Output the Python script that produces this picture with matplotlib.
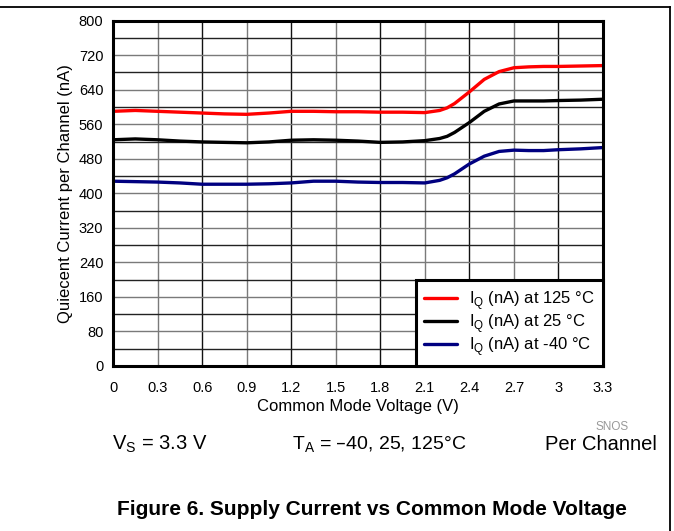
import numpy as np
import matplotlib.pyplot as plt

plt.rcParams['font.family'] = ['Liberation Sans', 'DejaVu Sans']

# common mode voltage (V)
v_cm = [0.0, 0.15, 0.3, 0.45, 0.6, 0.75, 0.9, 1.05, 1.2, 1.35, 1.5, 1.65, 1.8, 1.95,
        2.1, 2.2, 2.25, 2.3, 2.4, 2.5, 2.6, 2.7, 2.8, 2.9, 3.0, 3.15, 3.3]

# quiescent current per channel (nA)
iq_125 = [590, 592, 590, 588, 586, 584, 583, 586, 590, 590, 589, 589, 588, 588,
          587, 592, 598, 608, 635, 664, 682, 691, 693, 694, 694, 695, 696]
iq_25 = [524, 526, 524, 521, 519, 518, 517, 519, 523, 524, 523, 521, 518, 519,
         522, 527, 532, 541, 564, 590, 607, 614, 614, 614, 615, 616, 618]
iq_m40 = [428, 427, 426, 424, 421, 421, 421, 422, 424, 428, 428, 426, 425, 425,
          424, 430, 436, 445, 468, 486, 497, 500, 499, 499, 501, 503, 506]

series = [(iq_125, '#ff0000', 'I$_\\mathregular{Q}$ (nA) at 125 \u00b0C'),
          (iq_25, '#000000', 'I$_\\mathregular{Q}$ (nA) at 25 \u00b0C'),
          (iq_m40, '#000080', 'I$_\\mathregular{Q}$ (nA) at -40 \u00b0C')]

x_ticks = [0, 0.3, 0.6, 0.9, 1.2, 1.5, 1.8, 2.1, 2.4, 2.7, 3.0, 3.3]
x_labels = ['0', '0.3', '0.6', '0.9', '1.2', '1.5', '1.8', '2.1', '2.4', '2.7', '3', '3.3']
y_ticks = np.arange(0, 801, 80)

fig = plt.figure(figsize=(6.74, 5.31), dpi=100)
ax = fig.add_axes([0.1677, 0.311, 0.727, 0.650])

# grid: every 0.3 V and every 40 nA
for i, xv in enumerate(x_ticks[1:-1]):
    ax.axvline(xv, color='#7a7a7a' if i % 2 == 0 else '#111111', lw=1.0, zorder=1)
for j, yv in enumerate(np.arange(40, 800, 40)):
    ax.axhline(yv, color='#7a7a7a' if j % 2 else '#222222', lw=1.0, zorder=1)

for ys, col, lab in series:
    ax.plot(v_cm, ys, color=col, lw=2.4, label=lab, zorder=3, solid_capstyle='round')

ax.set_xlim(0, 3.3)
ax.set_ylim(0, 800)
ax.set_xticks(x_ticks)
ax.set_xticklabels(x_labels)
ax.set_yticks(y_ticks)
ax.tick_params(length=0, labelsize=10.5, pad=7)
ax.tick_params(axis='x', pad=11)
for sp in ax.spines.values():
    sp.set_linewidth(2.2)
    sp.set_zorder(5)

ax.set_xlabel('Common Mode Voltage (V)', fontsize=12, labelpad=3)
ax.set_ylabel('Quiecent Current per Channel (nA)', fontsize=12, labelpad=4)

leg = ax.legend(loc='lower right', fontsize=12, frameon=True, fancybox=False,
                borderaxespad=0, handlelength=2.0, handletextpad=0.7,
                labelspacing=0.0, borderpad=0.5, framealpha=1)
leg.get_frame().set_edgecolor('black')
leg.get_frame().set_linewidth(2.2)
leg.set_zorder(6)

fig.text(0.908, 0.195, 'SNOS', fontsize=8.5, color='#999999', ha='center', va='center')
fig.text(0.166, 0.163, 'V$_\\mathregular{S}$ = 3.3 V', fontsize=14.5, ha='left', va='center')
fig.text(0.433, 0.163, 'T$_\\mathregular{A}$ = \u201340, 25, 125\u00b0C', fontsize=14, ha='left', va='center')
fig.text(0.975, 0.163, 'Per Channel', fontsize=14.5, ha='right', va='center')
fig.text(0.552, 0.040, 'Figure 6. Supply Current vs Common Mode Voltage', fontsize=15,
         fontweight='bold', ha='center', va='center')

# page frame lines
fig.add_artist(plt.Line2D([0, 0.994], [0.987, 0.987], color='black', lw=1.3, transform=fig.transFigure))
fig.add_artist(plt.Line2D([0.994, 0.994], [0, 0.987], color='black', lw=1.3, transform=fig.transFigure))

fig.savefig('out.png', dpi=100)
